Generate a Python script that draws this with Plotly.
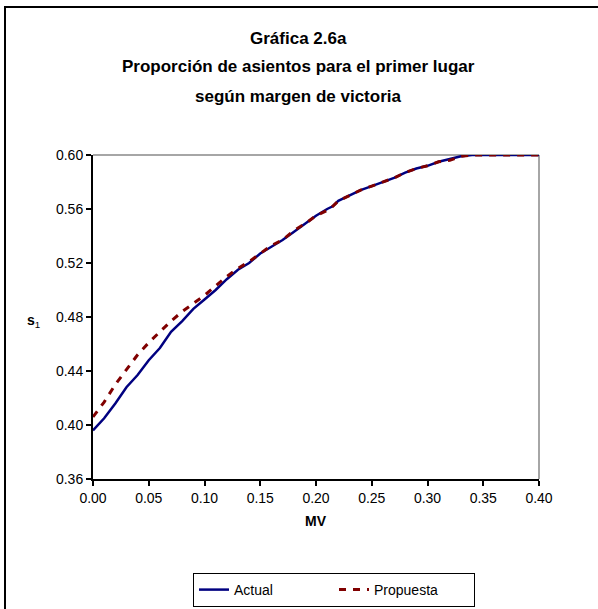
import plotly.graph_objects as go

mv = [0.00, 0.01, 0.02, 0.03, 0.04, 0.05, 0.06, 0.07, 0.08, 0.09,
      0.10, 0.11, 0.12, 0.13, 0.14, 0.15, 0.16, 0.17, 0.18, 0.19,
      0.20, 0.21, 0.215, 0.22, 0.23, 0.24, 0.25, 0.26, 0.27, 0.28, 0.29,
      0.30, 0.31, 0.32, 0.33, 0.34, 0.35, 0.36, 0.37, 0.38, 0.39, 0.40]

actual = [0.396, 0.405, 0.416, 0.428, 0.437, 0.448, 0.457, 0.469, 0.477, 0.486,
          0.493, 0.500, 0.508, 0.515, 0.520, 0.527, 0.532, 0.537, 0.543, 0.549,
          0.555, 0.560, 0.562, 0.566, 0.570, 0.574, 0.577, 0.580, 0.583, 0.587, 0.590,
          0.592, 0.595, 0.597, 0.599, 0.600, 0.600, 0.600, 0.600, 0.600, 0.600, 0.600]

propuesta = [0.406, 0.417, 0.430, 0.441, 0.452, 0.461, 0.469, 0.477, 0.484, 0.490,
             0.496, 0.503, 0.510, 0.516, 0.521, 0.527, 0.533, 0.537, 0.544, 0.549,
             0.555, 0.559, 0.562, 0.566, 0.570, 0.574, 0.577, 0.580, 0.583, 0.587, 0.590,
             0.592, 0.595, 0.596, 0.599, 0.600, 0.600, 0.600, 0.600, 0.600, 0.600, 0.600]

title_lines = ["Gráfica 2.6a", "Proporción de asientos para el primer lugar", "según margen de victoria"]

FONT = "Liberation Sans, Arial, sans-serif"

fig = go.Figure()
fig.add_trace(go.Scatter(x=mv, y=actual, mode="lines", name="Actual",
                         line=dict(color="#000080", width=2.5)))
fig.add_trace(go.Scatter(x=mv, y=propuesta, mode="lines", name="Propuesta",
                         line=dict(color="#800000", width=3, dash="7px,7px")))

W, H = 598, 609
PX0, PX1, PY0, PY1 = 93, 539, 155, 479  # plot area in pixels


def fx(px):
    return px / W


def fy(py):
    return 1 - py / H


title_y = [38, 67, 96]
annotations = [
    dict(text=f"<b>{s}</b>", xref="paper", yref="paper",
         x=fx(298), y=fy(yy), xanchor="center", yanchor="middle",
         showarrow=False, font=dict(family=FONT, size=17, color="black"))
    for s, yy in zip(title_lines, title_y)
]
annotations.append(
    dict(text="<b>s</b><sub>1</sub>", xref="paper", yref="paper",
         x=fx(25), y=fy(321), xanchor="left", yanchor="middle",
         showarrow=False, font=dict(family=FONT, size=14, color="black")))
annotations.append(
    dict(text="<b>MV</b>", xref="paper", yref="paper",
         x=fx(316), y=fy(521), xanchor="center", yanchor="middle",
         showarrow=False, font=dict(family=FONT, size=14, color="black")))

fig.update_layout(
    width=W, height=H,
    margin=dict(l=0, r=0, t=0, b=0, autoexpand=False),
    paper_bgcolor="white", plot_bgcolor="white",
    font=dict(family=FONT, size=14, color="black"),
    showlegend=True,
    legend=dict(orientation="h", x=fx(334), xanchor="center",
                y=fy(573), yanchor="top",
                bordercolor="black", borderwidth=1, bgcolor="white",
                font=dict(family=FONT, size=14, color="black"),
                tracegroupgap=0, itemwidth=30, entrywidth=95, entrywidthmode="pixels"),
    xaxis=dict(domain=[fx(PX0), fx(PX1)], automargin=False,
               range=[0, 0.40], tick0=0, dtick=0.05, tickformat=".2f",
               showgrid=False, zeroline=False, showline=True, linecolor="black",
               linewidth=2, ticks="outside", ticklen=5, tickcolor="black", tickwidth=1.5,
               tickfont=dict(family=FONT, size=14)),
    yaxis=dict(domain=[fy(PY1), fy(PY0)], automargin=False,
               range=[0.36, 0.60], tick0=0.36, dtick=0.04, tickformat=".2f",
               showgrid=False, zeroline=False, showline=True, linecolor="black",
               linewidth=2, ticks="outside", ticklen=5, tickcolor="black", tickwidth=1.5,
               tickfont=dict(family=FONT, size=14)),
    shapes=[
        dict(type="line", xref="x domain", yref="y domain", x0=0, x1=1, y0=1, y1=1,
             line=dict(color="#888888", width=1.5), layer="below"),
        dict(type="line", xref="x domain", yref="y domain", x0=1, x1=1, y0=0, y1=1,
             line=dict(color="#888888", width=1.5), layer="below"),
        dict(type="rect", xref="paper", yref="paper",
             x0=fx(5), x1=fx(640), y0=fy(650), y1=fy(7),
             line=dict(color="black", width=2), fillcolor="rgba(0,0,0,0)"),
    ],
    annotations=annotations,
)

fig.write_html("out.html", config={"displayModeBar": False},
               post_script="document.body.style.margin='0px';")
